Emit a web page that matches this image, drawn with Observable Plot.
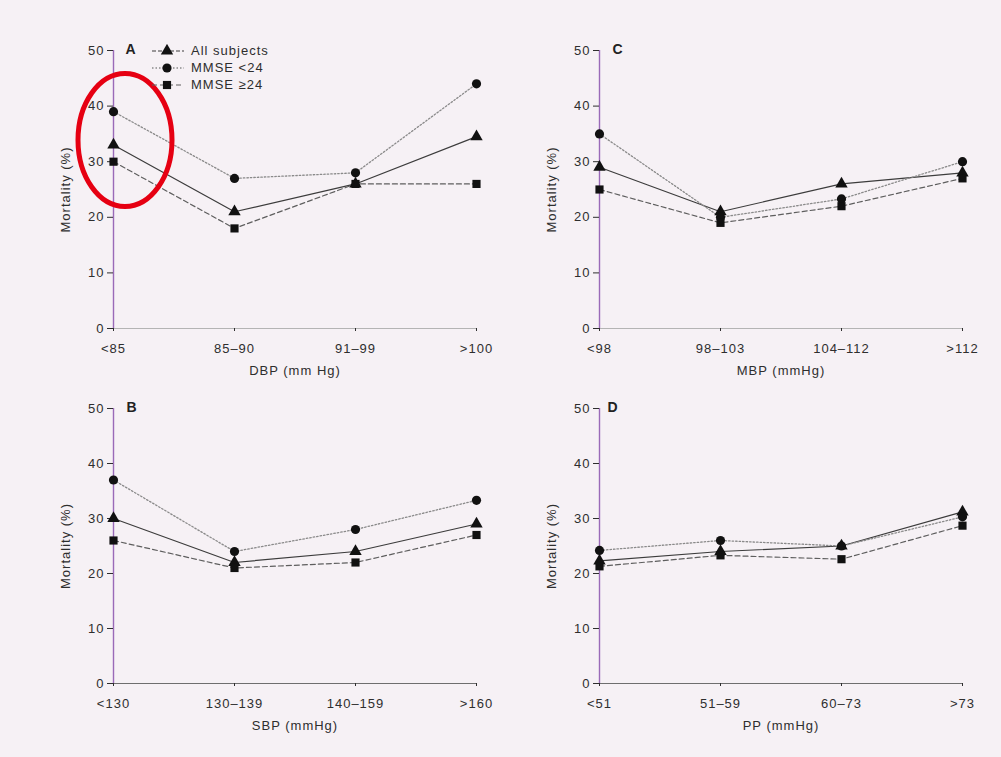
<!DOCTYPE html>
<html>
<head>
<meta charset="utf-8">
<script src="https://cdn.jsdelivr.net/npm/d3@7"></script>
<script src="https://cdn.jsdelivr.net/npm/@observablehq/plot@0.6"></script>
<style>
  body { margin: 0; background: #f6f1f5; }
  #fig { position: relative; width: 1001px; height: 757px; background: #f6f1f5; overflow: hidden;
         font-family: "Liberation Sans", Arial, sans-serif; color: #2e2e2e; }
  .panel { position: absolute; }
  .legend { position: absolute; font-size: 13px; letter-spacing: 1px; color: #2e2e2e; }
  .legend .row { display: flex; align-items: center; height: 17.2px; }
  .legend svg { margin-right: 4px; }
</style>
</head>
<body>
<div id="fig"></div>
<script>
// Mortality (%) by blood-pressure category, for all subjects and by MMSE group
const seriesNames = ["All subjects", "MMSE <24", "MMSE ≥24"];

// A: diastolic blood pressure
const dbpCats = ["<85", "85–90", "91–99", ">100"];
const dbpAll  = [33, 21, 26, 34.5];
const dbpLow  = [39, 27, 28, 44];
const dbpHigh = [30, 18, 26, 26];

// B: systolic blood pressure
const sbpCats = ["<130", "130–139", "140–159", ">160"];
const sbpAll  = [30, 22, 24, 29];
const sbpLow  = [37, 24, 28, 33.3];
const sbpHigh = [26, 21, 22, 27];

// C: mean blood pressure
const mbpCats = ["<98", "98–103", "104–112", ">112"];
const mbpAll  = [29, 21, 26, 28];
const mbpLow  = [35, 20, 23.3, 30];
const mbpHigh = [25, 19, 22, 27];

// D: pulse pressure
const ppCats = ["<51", "51–59", "60–73", ">73"];
const ppAll  = [22.3, 24, 25, 31.2];
const ppLow  = [24.2, 26, 25, 30.3];
const ppHigh = [21.3, 23.3, 22.6, 28.7];

const yTicks = [0, 10, 20, 30, 40, 50];

// Per-series drawing style (line pattern + marker shape)
const styles = [
  {stroke: "#3c3c3c", dash: null,    width: 1.2, symbol: "triangle", d3sym: d3.symbolTriangle},
  {stroke: "#8a8a8a", dash: "1.5,2", width: 1.3, symbol: "circle",   d3sym: d3.symbolCircle},
  {stroke: "#5e5e5e", dash: "5,3",   width: 1.2, symbol: "square",   d3sym: d3.symbolSquare}
];
const markerR = 4.6;

function toRows(cats, all, low, high) {
  const rows = [];
  [all, low, high].forEach((vals, s) => {
    cats.forEach((c, i) => rows.push({cat: c, series: seriesNames[s], value: vals[i]}));
  });
  return rows;
}

function panel({cats, all, low, high, letter, xLabel, left, top, marginTop, marginBottom, letterDx, baseStroke}) {
  const rows = toRows(cats, all, low, high);
  const lineMarks = seriesNames.map((name, s) =>
    Plot.line(rows.filter(d => d.series === name), {
      x: "cat", y: "value",
      stroke: styles[s].stroke, strokeWidth: styles[s].width,
      strokeDasharray: styles[s].dash || undefined
    })
  );
  const plot = Plot.plot({
    width: 500, height: 390,
    marginLeft: 113, marginRight: 24, marginTop, marginBottom,
    style: {background: "transparent", fontFamily: '"Liberation Sans", Arial, sans-serif',
            fontSize: "13px", color: "#2e2e2e", letterSpacing: "1px", overflow: "visible"},
    x: {type: "point", domain: cats, padding: 0},
    y: {domain: [0, 50]},
    symbol: {domain: seriesNames, range: styles.map(s => s.symbol)},
    marks: [
      Plot.ruleY([0], {stroke: baseStroke, strokeWidth: 1}),
      Plot.ruleX([cats[0]], {y1: 0, y2: 50, stroke: "#9a6ab8", strokeWidth: 1.4}),
      Plot.axisY({ticks: yTicks, tickSize: 6, tickPadding: 3, label: "Mortality (%)",
                  labelAnchor: "center", labelOffset: 53, labelArrow: "none"}),
      Plot.axisX({tickSize: 3, tickPadding: 12, label: xLabel,
                  labelAnchor: "center", labelOffset: 46, labelArrow: "none"}),
      ...lineMarks,
      Plot.dot(rows, {x: "cat", y: "value", symbol: "series", fill: "#111", r: markerR}),
      Plot.text([letter], {frameAnchor: "top-left", dx: letterDx, dy: -6, lineAnchor: "top",
                           textAnchor: "start", fontWeight: "bold", fontSize: 14, fill: "#222"})
    ]
  });
  plot.classList.add("panel");
  plot.style.left = left + "px";
  plot.style.top = top + "px";
  document.getElementById("fig").appendChild(plot);
  return plot;
}

const plotA = panel({cats: dbpCats, all: dbpAll, low: dbpLow, high: dbpHigh, letter: "A",
  xLabel: "DBP (mm Hg)", left: 0, top: 0, marginTop: 50, marginBottom: 62, letterDx: 12, baseStroke: "#b4b4b4"});
panel({cats: mbpCats, all: mbpAll, low: mbpLow, high: mbpHigh, letter: "C",
  xLabel: "MBP (mmHg)", left: 486, top: 0, marginTop: 50, marginBottom: 62, letterDx: 13, baseStroke: "#b4b4b4"});
panel({cats: sbpCats, all: sbpAll, low: sbpLow, high: sbpHigh, letter: "B",
  xLabel: "SBP (mmHg)", left: 0, top: 356, marginTop: 52, marginBottom: 63, letterDx: 13, baseStroke: "#6e6e6e"});
panel({cats: ppCats, all: ppAll, low: ppLow, high: ppHigh, letter: "D",
  xLabel: "PP (mmHg)", left: 486, top: 356, marginTop: 52, marginBottom: 63, letterDx: 8, baseStroke: "#6e6e6e"});

// Red highlight ring around the lowest DBP category in panel A
{
  const xs = plotA.scale("x"), ys = plotA.scale("y");
  const firstVals = [dbpAll[0], dbpLow[0], dbpHigh[0]];
  const cx = xs.apply(dbpCats[0]) + 12;
  const cy = ys.apply(d3.mean(firstVals)) + 1;
  d3.select(plotA).append("ellipse")
    .attr("cx", cx).attr("cy", cy).attr("rx", 47).attr("ry", 66.5)
    .attr("fill", "none").attr("stroke", "#e60012").attr("stroke-width", 5);
}

// Legend inside panel A
{
  const legend = document.createElement("div");
  legend.className = "legend";
  legend.style.left = "149px";
  legend.style.top = "42px";
  seriesNames.forEach((name, s) => {
    const row = document.createElement("div");
    row.className = "row";
    const svg = d3.create("svg").attr("width", 38).attr("height", 14);
    svg.append("line").attr("x1", 3).attr("x2", 35).attr("y1", 7).attr("y2", 7)
      .attr("stroke", styles[s].stroke).attr("stroke-width", styles[s].width)
      .attr("stroke-dasharray", styles[s].dash || (s === 0 ? "4,2" : null));
    svg.append("path").attr("transform", "translate(18,7)")
      .attr("d", d3.symbol(styles[s].d3sym, Math.PI * markerR * markerR)())
      .attr("fill", "#111");
    row.appendChild(svg.node());
    const label = document.createElement("span");
    label.textContent = name;
    row.appendChild(label);
    legend.appendChild(row);
  });
  document.getElementById("fig").appendChild(legend);
}
</script>
</body>
</html>
